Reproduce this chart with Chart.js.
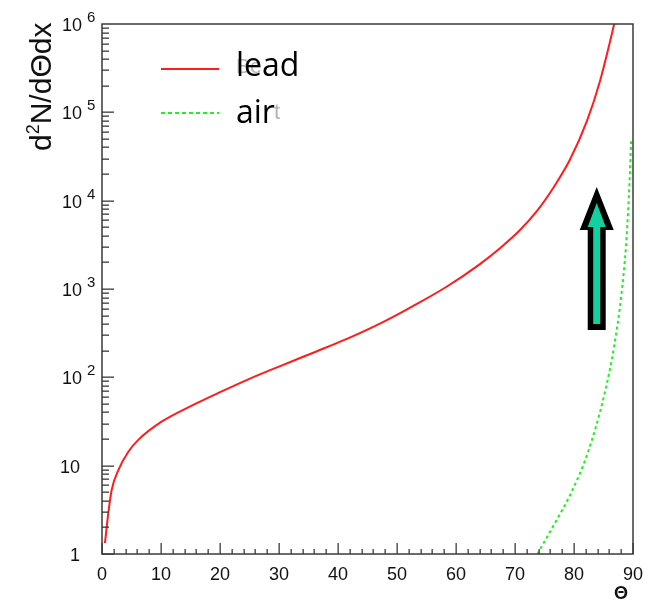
<!DOCTYPE html>
<html>
<head>
<meta charset="utf-8">
<script src="https://cdn.jsdelivr.net/npm/chart.js@4/dist/chart.umd.min.js"></script>
<style>
  html, body { margin: 0; padding: 0; background: #ffffff; }
  #wrap { width: 656px; height: 603px; }
</style>
</head>
<body>
<div id="wrap"><canvas id="chart" width="656" height="603"></canvas></div>
<script>
  // curve readings (theta in degrees, d2N/dThetadx)
  var leadTheta = [0.5, 1.07, 1.64, 2.77, 4.46, 6.15, 10.1, 15.8, 20, 24.8, 30.2, 35.8, 41.5, 47.1, 52.7, 58.4, 64, 67.6, 70.85, 73.7, 76.5, 79.3, 82.2, 84.4, 86.1, 86.8, 87.6];
  var leadValue = [1.33, 2.9, 5.3, 8.9, 14.4, 19.6, 31.5, 50, 68, 95, 134, 190, 272, 405, 640, 1060, 1900, 2950, 4650, 7600, 14000, 29000, 80000, 225000, 630000, 1000000, 1800000];

  var airTheta = [73.8, 76.7, 79.5, 82.3, 85.1, 86.8, 88.0, 88.8, 89.3, 89.7];
  var airValue = [1, 2.2, 4.9, 13.8, 62, 224, 830, 3000, 11200, 49000];

  var xTickLabels = [0, 10, 20, 30, 40, 50, 60, 70, 80, 90];
  var yTickExponents = [0, 1, 2, 3, 4, 5, 6];
  var legendLabels = ['lead', 'air'];

  // annotation arrow in data units
  var arrowTheta = 83.85;
  var arrowFrom = 344;
  var arrowTo = 14300;

  function toPoints(xs, ys) {
    return xs.map(function (x, i) { return { x: x, y: ys[i] }; });
  }

  var RED = '#ff1c1c';
  var GREEN = '#1ff01f';
  var AXIS = '#3a3a3a';
  var FONT = '"Liberation Sans", Arial, sans-serif';

  function drawArrow(ctx, xs, ys) {
    var cx = xs.getPixelForValue(arrowTheta);
    var yBase = ys.getPixelForValue(arrowFrom);
    var yTip = ys.getPixelForValue(arrowTo);
    function shape(tip, headBase, headHalf, shaftHalf, bottom) {
      ctx.beginPath();
      ctx.moveTo(cx, tip);
      ctx.lineTo(cx + headHalf, headBase);
      ctx.lineTo(cx + shaftHalf, headBase);
      ctx.lineTo(cx + shaftHalf, bottom);
      ctx.lineTo(cx - shaftHalf, bottom);
      ctx.lineTo(cx - shaftHalf, headBase);
      ctx.lineTo(cx - headHalf, headBase);
      ctx.closePath();
      ctx.fill();
    }
    ctx.fillStyle = '#000000';
    shape(yTip, yTip + 43, 17, 9, yBase);
    ctx.fillStyle = '#12d0a0';
    shape(yTip + 16, yTip + 40, 9, 3.5, yBase - 6);
  }

  var rootAxes = {
    id: 'rootAxes',
    afterDatasetsDraw: function (chart) {
      var ctx = chart.ctx;
      var area = chart.chartArea;
      var xs = chart.scales.x;
      var ys = chart.scales.y;
      ctx.save();
      ctx.setLineDash([]);

      // frame
      ctx.strokeStyle = AXIS;
      ctx.lineWidth = 1.5;
      ctx.strokeRect(area.left, area.top, area.right - area.left, area.bottom - area.top);

      // inward ticks, ROOT style
      ctx.fillStyle = AXIS;
      var t, px, len;
      for (t = 0; t <= 90; t += 2) {
        px = Math.round(xs.getPixelForValue(t));
        len = (t % 10 === 0) ? 11 : 5;
        ctx.fillRect(px - 0.5, area.bottom - len, 1.3, len);
      }
      var e, m, py;
      for (e = 0; e < 6; e++) {
        for (m = 1; m <= 9; m++) {
          py = Math.round(ys.getPixelForValue(m * Math.pow(10, e)));
          len = (m === 1) ? 12 : 7;
          ctx.fillRect(area.left, py - 0.5, len, 1.3);
        }
      }

      // x labels
      ctx.fillStyle = '#111111';
      ctx.font = '18px ' + FONT;
      ctx.textAlign = 'center';
      ctx.textBaseline = 'alphabetic';
      xTickLabels.forEach(function (v) {
        ctx.fillText(String(v), xs.getPixelForValue(v), 580);
      });

      // y labels
      yTickExponents.forEach(function (k) {
        var yy = ys.getPixelForValue(Math.pow(10, k));
        ctx.textAlign = 'right';
        ctx.font = '18px ' + FONT;
        if (k === 0) {
          ctx.fillText('1', 80, yy + 7);
        } else if (k === 1) {
          ctx.fillText('10', 80, yy + 7);
        } else {
          ctx.fillText('10', 82, yy + 7);
          ctx.textAlign = 'left';
          ctx.font = '15px ' + FONT;
          ctx.fillText(String(k), 87, yy - 2);
        }
      });

      // x title
      ctx.font = 'bold 18px ' + FONT;
      ctx.textAlign = 'right';
      ctx.fillText('\u0398', 628, 599);

      // y title, rotated
      ctx.save();
      ctx.translate(51, 151);
      ctx.rotate(-Math.PI / 2);
      ctx.textAlign = 'left';
      ctx.font = '30px ' + FONT;
      var w = ctx.measureText('d').width;
      ctx.fillText('d', 0, 0);
      ctx.font = '18px ' + FONT;
      ctx.fillText('2', w, -12);
      w += ctx.measureText('2').width;
      ctx.font = '30px ' + FONT;
      ctx.fillText('N/d\u0398dx', w, 0);
      ctx.restore();

      // legend
      ctx.lineWidth = 2;
      ctx.strokeStyle = RED;
      ctx.beginPath();
      ctx.moveTo(161, 69);
      ctx.lineTo(219, 69);
      ctx.stroke();
      ctx.strokeStyle = GREEN;
      ctx.setLineDash([4, 3]);
      ctx.beginPath();
      ctx.moveTo(161, 113);
      ctx.lineTo(219, 113);
      ctx.stroke();
      ctx.setLineDash([]);

      ctx.textAlign = 'left';
      ctx.fillStyle = '#b4b4b4';
      ctx.font = '21px ' + FONT;
      ctx.fillText('Be', 236, 73);
      ctx.font = '22px ' + FONT;
      ctx.fillText('t', 274, 119);
      ctx.fillStyle = '#000000';
      ctx.font = '32px "Open Sans", sans-serif';
      ctx.fillText(legendLabels[0], 236, 76);
      ctx.fillText(legendLabels[1], 236, 123);

      drawArrow(ctx, xs, ys);
      ctx.restore();
    }
  };

  new Chart(document.getElementById('chart'), {
    type: 'line',
    data: {
      datasets: [
        {
          label: legendLabels[0],
          data: toPoints(leadTheta, leadValue),
          borderColor: RED,
          borderWidth: 2,
          pointRadius: 0,
          fill: false,
          cubicInterpolationMode: 'monotone',
        },
        {
          label: legendLabels[1],
          data: toPoints(airTheta, airValue),
          borderColor: GREEN,
          borderWidth: 2,
          borderDash: [3, 3],
          pointRadius: 0,
          fill: false,
          cubicInterpolationMode: 'monotone',
        },
      ],
    },
    options: {
      responsive: false,
      animation: false,
      layout: { padding: { left: 102, right: 23, top: 24, bottom: 49 } },
      plugins: {
        legend: { display: false },
        tooltip: { enabled: false },
      },
      scales: {
        x: { type: 'linear', min: 0, max: 90, display: false },
        y: { type: 'logarithmic', min: 1, max: 1000000, display: false },
      },
    },
    plugins: [rootAxes],
  });
</script>
</body>
</html>
